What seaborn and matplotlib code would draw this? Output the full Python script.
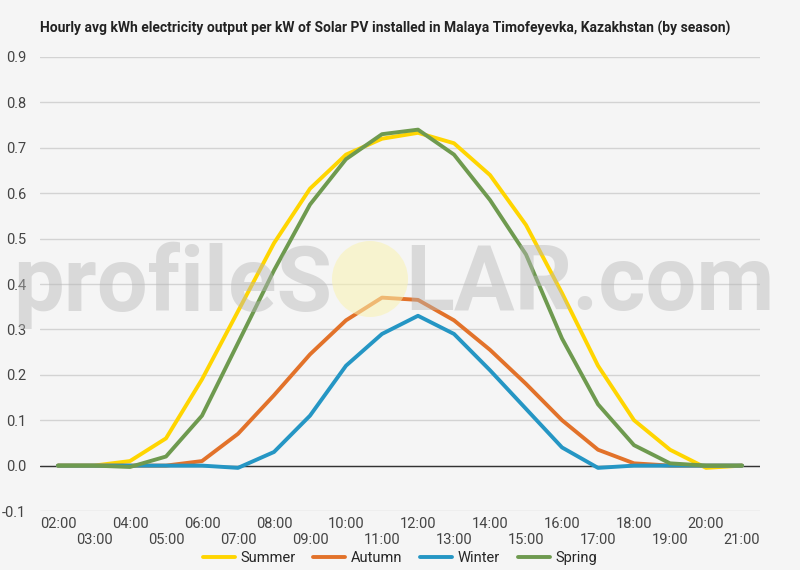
import pandas as pd
import numpy as np
import matplotlib.pyplot as plt
import seaborn as sns
from matplotlib.patches import Ellipse

# hourly values
hours = ['02:00', '03:00', '04:00', '05:00', '06:00', '07:00', '08:00', '09:00', '10:00', '11:00',
         '12:00', '13:00', '14:00', '15:00', '16:00', '17:00', '18:00', '19:00', '20:00', '21:00']
summer = [0.0, 0.0, 0.01, 0.06, 0.19, 0.34, 0.49, 0.61, 0.685, 0.72,
          0.733, 0.71, 0.64, 0.53, 0.38, 0.22, 0.10, 0.035, -0.005, 0.0]
autumn = [0.0, 0.0, 0.0, 0.0, 0.01, 0.07, 0.155, 0.245, 0.32, 0.37,
          0.365, 0.32, 0.255, 0.18, 0.10, 0.035, 0.005, 0.0, 0.0, 0.0]
winter = [0.0, 0.0, 0.0, 0.0, 0.0, -0.005, 0.03, 0.11, 0.22, 0.29,
          0.33, 0.29, 0.21, 0.125, 0.04, -0.005, 0.0, 0.0, 0.0, 0.0]
spring = [0.0, 0.0, -0.003, 0.02, 0.11, 0.27, 0.43, 0.575, 0.675, 0.73,
          0.74, 0.685, 0.585, 0.465, 0.28, 0.135, 0.045, 0.005, 0.0, 0.0]
seasons = ['Summer', 'Autumn', 'Winter', 'Spring']
colors = ['#FFD500', '#E2722A', '#2596C4', '#6E9A4F']

df = pd.DataFrame({'hour': list(range(len(hours))) * 4,
                   'kwh': summer + autumn + winter + spring,
                   'season': np.repeat(seasons, len(hours))})

sns.set_style('white')
plt.rcParams['font.family'] = ['Roboto', 'DejaVu Sans']

fig = plt.figure(figsize=(8, 5.7), dpi=100, facecolor='#F5F5F5')
ax = fig.add_axes([0.05, 0.1035, 0.9, 0.7965])
ax.set_facecolor('#F5F5F5')

sns.lineplot(data=df, x='hour', y='kwh', hue='season', hue_order=seasons,
             palette=colors, linewidth=2.8, ax=ax)

ax.set_ylim(-0.1, 0.9)
ax.set_xlim(-0.5, 19.5)
ax.set_yticks(np.arange(-0.1, 0.91, 0.1))
ax.set_yticklabels(['-0.1', '0.0', '0.1', '0.2', '0.3', '0.4', '0.5', '0.6', '0.7', '0.8', '0.9'])
ax.grid(axis='y', color='#D3D3D3', linewidth=1)
ax.axhline(0, color='#333333', linewidth=1, zorder=1)
ax.set_xticks(range(len(hours)))
ax.set_xticklabels([h if i % 2 == 0 else '\n' + h for i, h in enumerate(hours)])
ax.tick_params(axis='both', length=0, labelsize=10.5, labelcolor='#444444')
ax.tick_params(axis='y', pad=10)
ax.tick_params(axis='x', pad=4)
for s in ax.spines.values():
    s.set_visible(False)
ax.set_xlabel('')
ax.set_ylabel('')

ax.legend(loc='center', bbox_to_anchor=(0.5, -0.104), ncol=4, frameon=False,
          fontsize=10.5, handlelength=2.2, columnspacing=1.2, handletextpad=0.4)

# watermark drawn over the lines, semi transparent
fig.text(332 / 800, 1 - 285 / 570, 'profileS', fontsize=65, fontweight='bold', color='#B8B8B8',
         alpha=0.45, ha='right', va='center', zorder=5)
fig.text(405 / 800, 1 - 285 / 570, 'LAR.com', fontsize=65, fontweight='bold', color='#B8B8B8',
         alpha=0.45, ha='left', va='center', zorder=5)
fig.patches.append(Ellipse((370 / 800, 1 - 279 / 570), 76 / 800, 76 / 570, transform=fig.transFigure,
                           facecolor='#FAF3B0', edgecolor='none', alpha=0.55, zorder=5))

fig.text(0.05, 1 - 28 / 570, 'Hourly avg kWh electricity output per kW of Solar PV installed in Malaya Timofeyevka, Kazakhstan (by season)',
         fontsize=10, fontweight='bold', color='#222222', va='center')

plt.savefig('out.png', dpi=100, facecolor=fig.get_facecolor())
